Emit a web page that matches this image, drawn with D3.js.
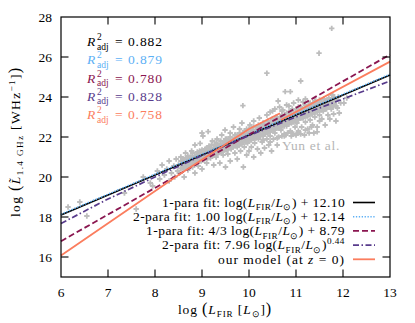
<!DOCTYPE html>
<html lang="en">
<head>
<meta charset="UTF-8">
<title>Radio-FIR correlation</title>
<script src="https://cdn.jsdelivr.net/npm/d3@7"></script>
<style>
  body { margin: 0; background: #fff; }
</style>
</head>
<body>
<svg></svg>
<script>
const width = 415, height = 323;
const plot = {left: 61, right: 390, top: 17, bottom: 277};

const xTicks = [6, 7, 8, 9, 10, 11, 12, 13];
const yTicks = [16, 18, 20, 22, 24, 26, 28];

// fit lines
const fitX = [6, 13];
const fit1Para = [18.10, 25.10];
const fit2Para = [18.14, 25.14];
const fit1ParaSteep = [16.79, 26.12];
const powX = [6, 7, 8, 9, 10, 11, 12, 13];
const powY = [17.68, 18.9, 20.0, 21.07, 22.07, 23.0, 23.9, 24.8];
const modelX = [6, 8.5, 10, 10.66, null, 10.68, 13];
const modelY = [16.07, 20.1, 22.4, 23.19, null, 22.85, 25.77];

const r2Values = ['0.882', '0.879', '0.780', '0.828', '0.758'];
const seriesColors = ['#000000', '#5cb0f5', '#8a1650', '#583b8c', '#fb7d5e'];

// Yun et al. sample (log L_FIR, log L_1.4GHz), estimated by eye: scattered points
const yunPoints = [
  [6.15,18.5],[6.4,18.75],[6.55,18.05],[7.35,19.2],[7.6,18.4],[7.75,20.0],[7.9,19.7],[7.95,19.55],
  [8.05,20.3],[8.1,19.9],[8.15,20.6],[8.2,20.1],[8.25,20.4],[8.3,20.8],[8.3,19.8],[8.35,20.2],
  [8.4,20.55],[8.42,20.0],[8.45,20.9],[8.48,20.3],
  [8.5,20.6],[8.52,20.2],[8.55,21.0],[8.58,20.45],[8.6,20.75],[8.62,20.0],[8.65,21.2],[8.68,20.6],
  [8.7,20.35],[8.72,20.9],[8.75,20.65],[8.78,21.3],[8.8,20.5],[8.82,20.95],[8.85,20.2],[8.85,21.6],
  [8.88,20.8],[8.9,21.1],[8.92,20.55],[8.95,21.3],[8.97,20.9],[8.96,21.68],[9.0,20.4],[9.0,22.2],
  [9.02,22.05],[9.05,21.0],[9.07,21.4],[9.1,20.7],[9.12,21.2],[9.13,22.27],[9.15,21.55],[9.18,20.95],
  [9.2,21.35],[9.22,21.8],[9.25,20.6],[9.25,21.15],[9.28,21.6],[9.3,21.0],[9.32,21.9],[9.35,21.3],
  [9.38,20.7],[9.4,21.55],[9.42,22.1],[9.45,21.1],[9.47,21.75],[9.49,22.35],[9.5,20.5],[9.5,21.4],
  [9.53,21.9],[9.55,21.15],[9.57,21.6],[9.6,22.2],[9.6,20.8],[9.62,21.4],[9.65,21.85],[9.67,22.5],
  [9.7,21.2],[9.7,21.65],[9.72,22.1],[9.75,20.9],[9.75,21.5],[9.78,21.95],[9.8,22.4],[9.82,21.3],
  [9.85,21.75],[9.85,22.7],[9.87,23.57],[9.88,20.5],[9.88,22.15],[9.9,21.5],[9.92,21.95],[9.95,21.1],
  [9.95,22.4],[9.97,21.7],[10.0,22.15],[10.0,21.3],
  [10.02,22.6],[10.05,21.5],[10.05,21.9],[10.08,22.35],[10.1,21.0],[10.1,22.8],[10.12,21.7],[10.15,22.15],
  [10.18,21.4],[10.2,22.5],[10.2,21.9],[10.22,22.95],[10.25,21.2],[10.25,22.3],[10.28,21.75],[10.3,22.65],
  [10.3,22.05],[10.33,21.45],[10.35,22.4],[10.38,23.1],[10.38,21.9],[10.38,25.19],[10.4,22.2],[10.42,21.6],
  [10.45,22.7],[10.45,22.05],[10.48,21.3],[10.5,22.45],[10.5,23.3],
  [10.52,21.9],[10.55,22.75],[10.55,22.2],[10.58,23.0],[10.6,21.6],[10.6,22.5],[10.62,23.8],[10.63,22.0],
  [10.65,22.9],[10.68,22.35],[10.7,23.3],[10.7,22.05],[10.72,22.7],[10.75,22.15],[10.75,23.05],[10.77,24.27],
  [10.78,22.1],[10.8,22.55],[10.8,23.6],[10.82,22.2],[10.85,22.85],[10.85,23.25],[10.88,22.3],[10.88,24.27],
  [10.9,22.05],[10.9,22.7],[10.92,23.4],[10.95,22.15],[10.95,23.0],[10.98,22.5],[11.0,22.1],[11.0,23.2],
  [11.02,22.7],[11.05,23.5],[11.05,22.2],[11.08,22.95],[11.1,22.15],[11.1,23.3],[11.1,24.8],[11.12,22.5],
  [11.15,23.0],[11.15,23.75],[11.18,22.1],[11.2,22.75],[11.22,23.4],[11.25,22.4],[11.25,23.1],[11.28,22.2],
  [11.3,22.85],[11.3,23.6],[11.33,22.5],[11.35,23.25],[11.38,22.2],[11.4,23.0],[11.42,23.8],[11.45,22.5],
  [11.45,22.26],[11.47,23.35],[11.49,26.19],[11.5,22.8],[11.5,23.1],
  [11.52,23.5],[11.55,22.9],[11.58,23.3],[11.6,23.9],[11.62,22.6],[11.65,23.55],[11.68,23.1],[11.7,23.8],
  [11.72,22.9],[11.75,23.4],[11.76,27.43],[11.78,24.1],[11.8,23.15],[11.82,23.65],[11.85,22.8],[11.88,23.45],
  [11.9,24.0],[11.92,23.2],[11.95,23.7],[12.02,23.7],[12.08,23.95]
];

// the dense core of the same sample, close to the correlation
const yunCore = [
  [8.6,20.55],[8.6,20.9],[8.65,20.95],[8.65,20.6],[8.7,20.7],[8.7,21.05],[8.75,21.0],[8.75,20.75],
  [8.8,20.8],[8.8,21.2],[8.85,21.05],[8.85,20.85],[8.9,20.9],[8.9,21.25],[8.95,21.15],[8.95,20.85],
  [9.0,21.0],[9.0,21.35],[9.05,21.3],[9.05,20.9],[9.1,21.1],[9.1,21.45],[9.15,21.35],[9.15,21.0],
  [9.2,21.2],[9.2,21.6],[9.25,21.45],[9.25,21.1],[9.3,21.3],[9.3,21.7],[9.35,21.55],[9.35,21.2],
  [9.4,21.4],[9.4,21.8],[9.45,21.65],[9.45,21.3],[9.5,21.5],[9.5,21.9],[9.55,21.75],[9.55,21.4],
  [9.6,21.6],[9.6,22.0],[9.65,21.85],[9.65,21.5],[9.7,21.7],[9.7,22.1],[9.75,21.95],[9.75,21.6],
  [9.8,21.8],[9.8,22.2],[9.85,22.05],[9.85,21.65],[9.9,21.9],[9.9,22.3],[9.95,22.15],[9.95,21.75],
  [10.0,22.0],[10.0,22.4],[10.05,22.25],[10.05,21.85],[10.1,22.1],[10.1,22.5],[10.15,22.35],[10.15,21.95],
  [10.2,22.2],[10.2,22.6],[10.25,22.45],[10.25,22.05],[10.3,22.3],[10.3,22.7],[10.35,22.55],[10.35,22.15],
  [10.4,22.4],[10.4,22.8],[10.45,22.65],[10.45,22.25],[10.5,22.5],[10.5,22.9],[10.55,22.75],[10.55,22.35],
  [10.6,22.6],[10.6,23.0],[10.65,22.85],[10.65,22.45],[10.7,22.7],[10.7,23.1],[10.75,22.95],[10.75,22.55],
  [10.8,22.8],[10.8,23.2],[10.85,23.05],[10.85,22.65],[10.9,22.9],[10.9,23.3],[10.95,23.15],[10.95,22.75],
  [11.0,23.0],[11.0,23.4],[11.05,23.25],[11.05,22.85],[11.1,23.1],[11.1,23.5],[11.15,23.35],[11.15,22.95],
  [11.2,23.2],[11.2,23.6],[11.25,23.45],[11.25,23.05],[11.3,23.3],[11.3,23.7],[11.35,23.55],[11.35,23.15],
  [11.4,23.4],[11.4,23.8],[11.45,23.65],[11.45,23.25],[11.5,23.5],[11.5,23.85],[11.55,23.7],[11.55,23.35],
  [11.6,23.55],[11.6,23.9],[11.65,23.75],[11.65,23.4],[11.7,23.6],[11.7,23.95],[11.75,23.8],[11.75,23.5],
  [11.8,23.65],[11.8,24.0],[11.85,23.85],[11.85,23.55],
  [8.55,20.8],[8.55,20.42],[8.62,20.78],[8.62,20.4],[8.68,20.9],[8.68,20.5],[8.72,20.8],[8.72,20.55],
  [8.78,21.0],[8.78,20.6],[8.82,20.95],[8.82,20.65],[8.88,21.1],[8.88,20.7],[8.92,21.05],[8.92,20.75],
  [8.98,21.2],[8.98,20.8],[9.02,21.15],[9.02,20.85],[9.08,21.3],[9.08,20.95],[9.12,21.25],[9.12,20.95],
  [9.18,21.4],[9.18,21.05],[9.22,21.35],[9.22,21.05],[9.28,21.5],[9.28,21.15],[9.32,21.45],[9.32,21.15],
  [9.38,21.6],[9.38,21.25],[9.42,21.55],[9.42,21.25],[9.48,21.7],[9.48,21.35],[9.52,21.65],[9.52,21.35],
  [9.58,21.8],[9.58,21.45],[9.62,21.75],[9.62,21.45],[9.68,21.9],[9.68,21.55],[9.72,21.85],[9.72,21.55],
  [9.78,22.0],[9.78,21.65],[9.82,21.95],[9.82,21.65],[9.88,22.1],[9.88,21.75],[9.92,22.05],[9.92,21.75],
  [9.98,22.2],[9.98,21.85],[10.02,22.15],[10.02,21.85],[10.08,22.3],[10.08,21.95],[10.12,22.25],[10.12,21.95],
  [10.18,22.4],[10.18,22.05],[10.22,22.35],[10.22,22.05],[10.28,22.5],[10.28,22.15],[10.32,22.45],[10.32,22.15],
  [10.38,22.6],[10.38,22.25],[10.42,22.55],[10.42,22.25],[10.48,22.7],[10.48,22.35],[10.52,22.65],[10.52,22.35],
  [10.58,22.8],[10.58,22.45],[10.62,22.75],[10.62,22.45],[10.68,22.9],[10.68,22.55],[10.72,22.85],[10.72,22.55],
  [10.78,23.0],[10.78,22.65],[10.82,22.95],[10.82,22.65],[10.88,23.1],[10.88,22.75],[10.92,23.05],[10.92,22.75],
  [10.98,23.2],[10.98,22.85],[11.02,23.15],[11.02,22.85],[11.08,23.3],[11.08,22.95],[11.12,23.25],[11.12,22.95],
  [11.18,23.4],[11.18,23.05],[11.22,23.35],[11.22,23.05],[11.28,23.5],[11.28,23.15],[11.32,23.45],[11.32,23.15],
  [11.38,23.6],[11.38,23.25],[11.42,23.55],[11.42,23.25],[11.48,23.7],[11.48,23.35],[11.52,23.65],[11.52,23.35],
  [11.58,23.75],[11.58,23.45],[11.62,23.7],[11.62,23.45],[11.68,23.85],[11.68,23.55],[11.72,23.8],[11.72,23.55],
  [11.78,23.9],[11.78,23.6],[11.82,23.85],[11.82,23.6],
  [10.45,23.25],[10.55,23.4],[10.65,23.5],[10.72,23.35],[10.85,23.55],[10.95,23.7],[11.05,23.85],[11.2,23.9],
  [10.3,21.85],[10.45,21.75],[10.6,21.95],[10.75,22.05],[10.9,22.2],[11.05,22.3],[11.2,22.35],[11.35,22.6]
];

const serif = "'Liberation Serif', 'Times New Roman', serif";

const svg = d3.select('svg')
  .attr('width', width)
  .attr('height', height)
  .style('font-family', serif);

const x = d3.scaleLinear().domain([6, 13]).range([plot.left, plot.right]);
const y = d3.scaleLinear().domain([15, 28]).range([plot.bottom, plot.top]);

// text with sub/superscripts: parts are [text, kind], kind '' | 'i' | 'sub' | 'sup' | 'big'
function rich(sel, parts, size) {
  let shift = 0;
  parts.forEach(([t, k]) => {
    const target = k === 'sub' ? size * 0.25 : k === 'sup' ? -size * 0.38 : 0;
    const small = k === 'sub' || k === 'sup';
    sel.append('tspan')
      .attr('dy', target - shift)
      .attr('font-size', small ? size * 0.68 : k === 'big' ? size * 1.2 : size)
      .attr('font-style', k === 'i' ? 'italic' : null)
      .text(t);
    shift = target;
  });
}

// the reference uses a wider TeX font, so stretch the spacing to the measured width
function fitWidth(t, target) {
  const n = t.text().length;
  const w = t.node().getComputedTextLength();
  if (n > 1 && target > w) t.attr('letter-spacing', ((target - w) / n).toFixed(2));
}

// scatter
svg.append('g')
  .selectAll('path')
  .data(yunPoints.concat(yunCore))
  .join('path')
  .attr('d', d => `M${x(d[0]) - 2.7},${y(d[1])}h5.4M${x(d[0])},${y(d[1]) - 2.7}v5.4`)
  .attr('stroke', '#bdbdbd')
  .attr('stroke-width', 1.8);

const yun = svg.append('text')
  .attr('x', 282).attr('y', 150)
  .attr('font-size', 13.5)
  .attr('fill', '#b5b5b5')
  .text('Yun et al.');
fitWidth(yun, 58);

// lines
const line = d3.line()
  .defined(d => d[1] != null)
  .x(d => x(d[0]))
  .y(d => y(d[1]));

const styles = [
  {dash: null, w: 1.6},
  {dash: '1.3,1.6', w: 1.6},
  {dash: '6,3', w: 1.8},
  {dash: '6,2.5,1.5,2.5', w: 1.7},
  {dash: null, w: 1.8}
];

const lineData = [
  fitX.map((v, i) => [v, fit1Para[i]]),
  fitX.map((v, i) => [v, fit2Para[i]]),
  fitX.map((v, i) => [v, fit1ParaSteep[i]]),
  powX.map((v, i) => [v, powY[i]]),
  modelX.map((v, i) => [v, modelY[i]])
];

svg.append('g')
  .selectAll('path')
  .data(lineData)
  .join('path')
  .attr('d', line)
  .attr('fill', 'none')
  .attr('stroke', (d, i) => seriesColors[i])
  .attr('stroke-width', (d, i) => styles[i].w)
  .attr('stroke-dasharray', (d, i) => styles[i].dash);

// frame and ticks
svg.append('rect')
  .attr('x', plot.left).attr('y', plot.top)
  .attr('width', plot.right - plot.left).attr('height', plot.bottom - plot.top)
  .attr('fill', 'none').attr('stroke', '#000').attr('stroke-width', 1.2);

const tickLen = 7.5;
const axisG = svg.append('g').attr('stroke', '#000').attr('stroke-width', 1.1);
xTicks.slice(1, -1).forEach(t => {
  axisG.append('line').attr('x1', x(t)).attr('x2', x(t)).attr('y1', plot.bottom).attr('y2', plot.bottom - tickLen);
  axisG.append('line').attr('x1', x(t)).attr('x2', x(t)).attr('y1', plot.top).attr('y2', plot.top + tickLen);
});
yTicks.slice(0, -1).forEach(t => {
  axisG.append('line').attr('y1', y(t)).attr('y2', y(t)).attr('x1', plot.left).attr('x2', plot.left + tickLen);
  axisG.append('line').attr('y1', y(t)).attr('y2', y(t)).attr('x1', plot.right).attr('x2', plot.right - tickLen);
});

svg.append('g')
  .selectAll('text')
  .data(xTicks)
  .join('text')
  .attr('x', d => x(d))
  .attr('y', 297)
  .attr('text-anchor', 'middle')
  .attr('font-size', 13.5)
  .text(d => d);

svg.append('g')
  .selectAll('text')
  .data(yTicks)
  .join('text')
  .attr('x', 52)
  .attr('y', d => y(d) + 4.5)
  .attr('text-anchor', 'end')
  .attr('font-size', 13.5)
  .text(d => d);

// axis titles
const xt = svg.append('text')
  .attr('x', 178).attr('y', 314);
rich(xt, [['log ', ''], ['(', 'big'], ['L', 'i'], ['FIR', 'sub'], [' [', ''], ['L', 'i'], ['\u2299', 'sub'], [']', ''], [')', 'big']], 13.5);
fitWidth(xt, 94);

const yt = svg.append('text')
  .attr('transform', 'translate(20,217) rotate(-90)');
rich(yt, [['log ', ''], ['(', 'big'], ['L\u0303', 'i'], ['1.4 GHz', 'sub'], [' [WHz', ''], ['\u22121', 'sup'], [']', ''], [')', 'big']], 13.5);
fitWidth(yt, 152);

// R^2 annotations
const r2 = svg.append('g');
r2Values.forEach((v, i) => {
  const by = 46 + i * 18.3;
  const g = r2.append('g').attr('fill', seriesColors[i]).attr('font-size', 13.5);
  g.append('text').attr('x', 87).attr('y', by).attr('font-style', 'italic').text('R');
  g.append('text').attr('x', 97).attr('y', by - 6).attr('font-size', 9.5).text('2');
  g.append('text').attr('x', 97).attr('y', by + 3.5).attr('font-size', 9.5).text('adj');
  const val = g.append('text').attr('x', 115).attr('y', by).text('= ' + v);
  fitWidth(val, 48);
});

// legend
const legendLabels = [
  [['1-para fit: log(', ''], ['L', 'i'], ['FIR', 'sub'], ['/', ''], ['L', 'i'], ['\u2299', 'sub'], [') + 12.10', '']],
  [['2-para fit: 1.00 log(', ''], ['L', 'i'], ['FIR', 'sub'], ['/', ''], ['L', 'i'], ['\u2299', 'sub'], [') + 12.14', '']],
  [['1-para fit: 4/3 log(', ''], ['L', 'i'], ['FIR', 'sub'], ['/', ''], ['L', 'i'], ['\u2299', 'sub'], [') + 8.79', '']],
  [['2-para fit: 7.96 log(', ''], ['L', 'i'], ['FIR', 'sub'], ['/', ''], ['L', 'i'], ['\u2299', 'sub'], [')', ''], ['0.44', 'sup']],
  [['our model (at ', ''], ['z', 'i'], [' = 0)', '']]
];
const legendStart = [162, 133, 146, 162, 218];

const legend = svg.append('g');
legendLabels.forEach((parts, i) => {
  const cy = 202.5 + i * 14.2;
  const t = legend.append('text')
    .attr('x', legendStart[i]).attr('y', cy + 4.3);
  rich(t, parts, 13.5);
  fitWidth(t, 345 - legendStart[i]);
  legend.append('line')
    .attr('x1', 353).attr('x2', 375)
    .attr('y1', cy).attr('y2', cy)
    .attr('stroke', seriesColors[i])
    .attr('stroke-width', styles[i].w)
    .attr('stroke-dasharray', styles[i].dash);
});
</script>
</body>
</html>
